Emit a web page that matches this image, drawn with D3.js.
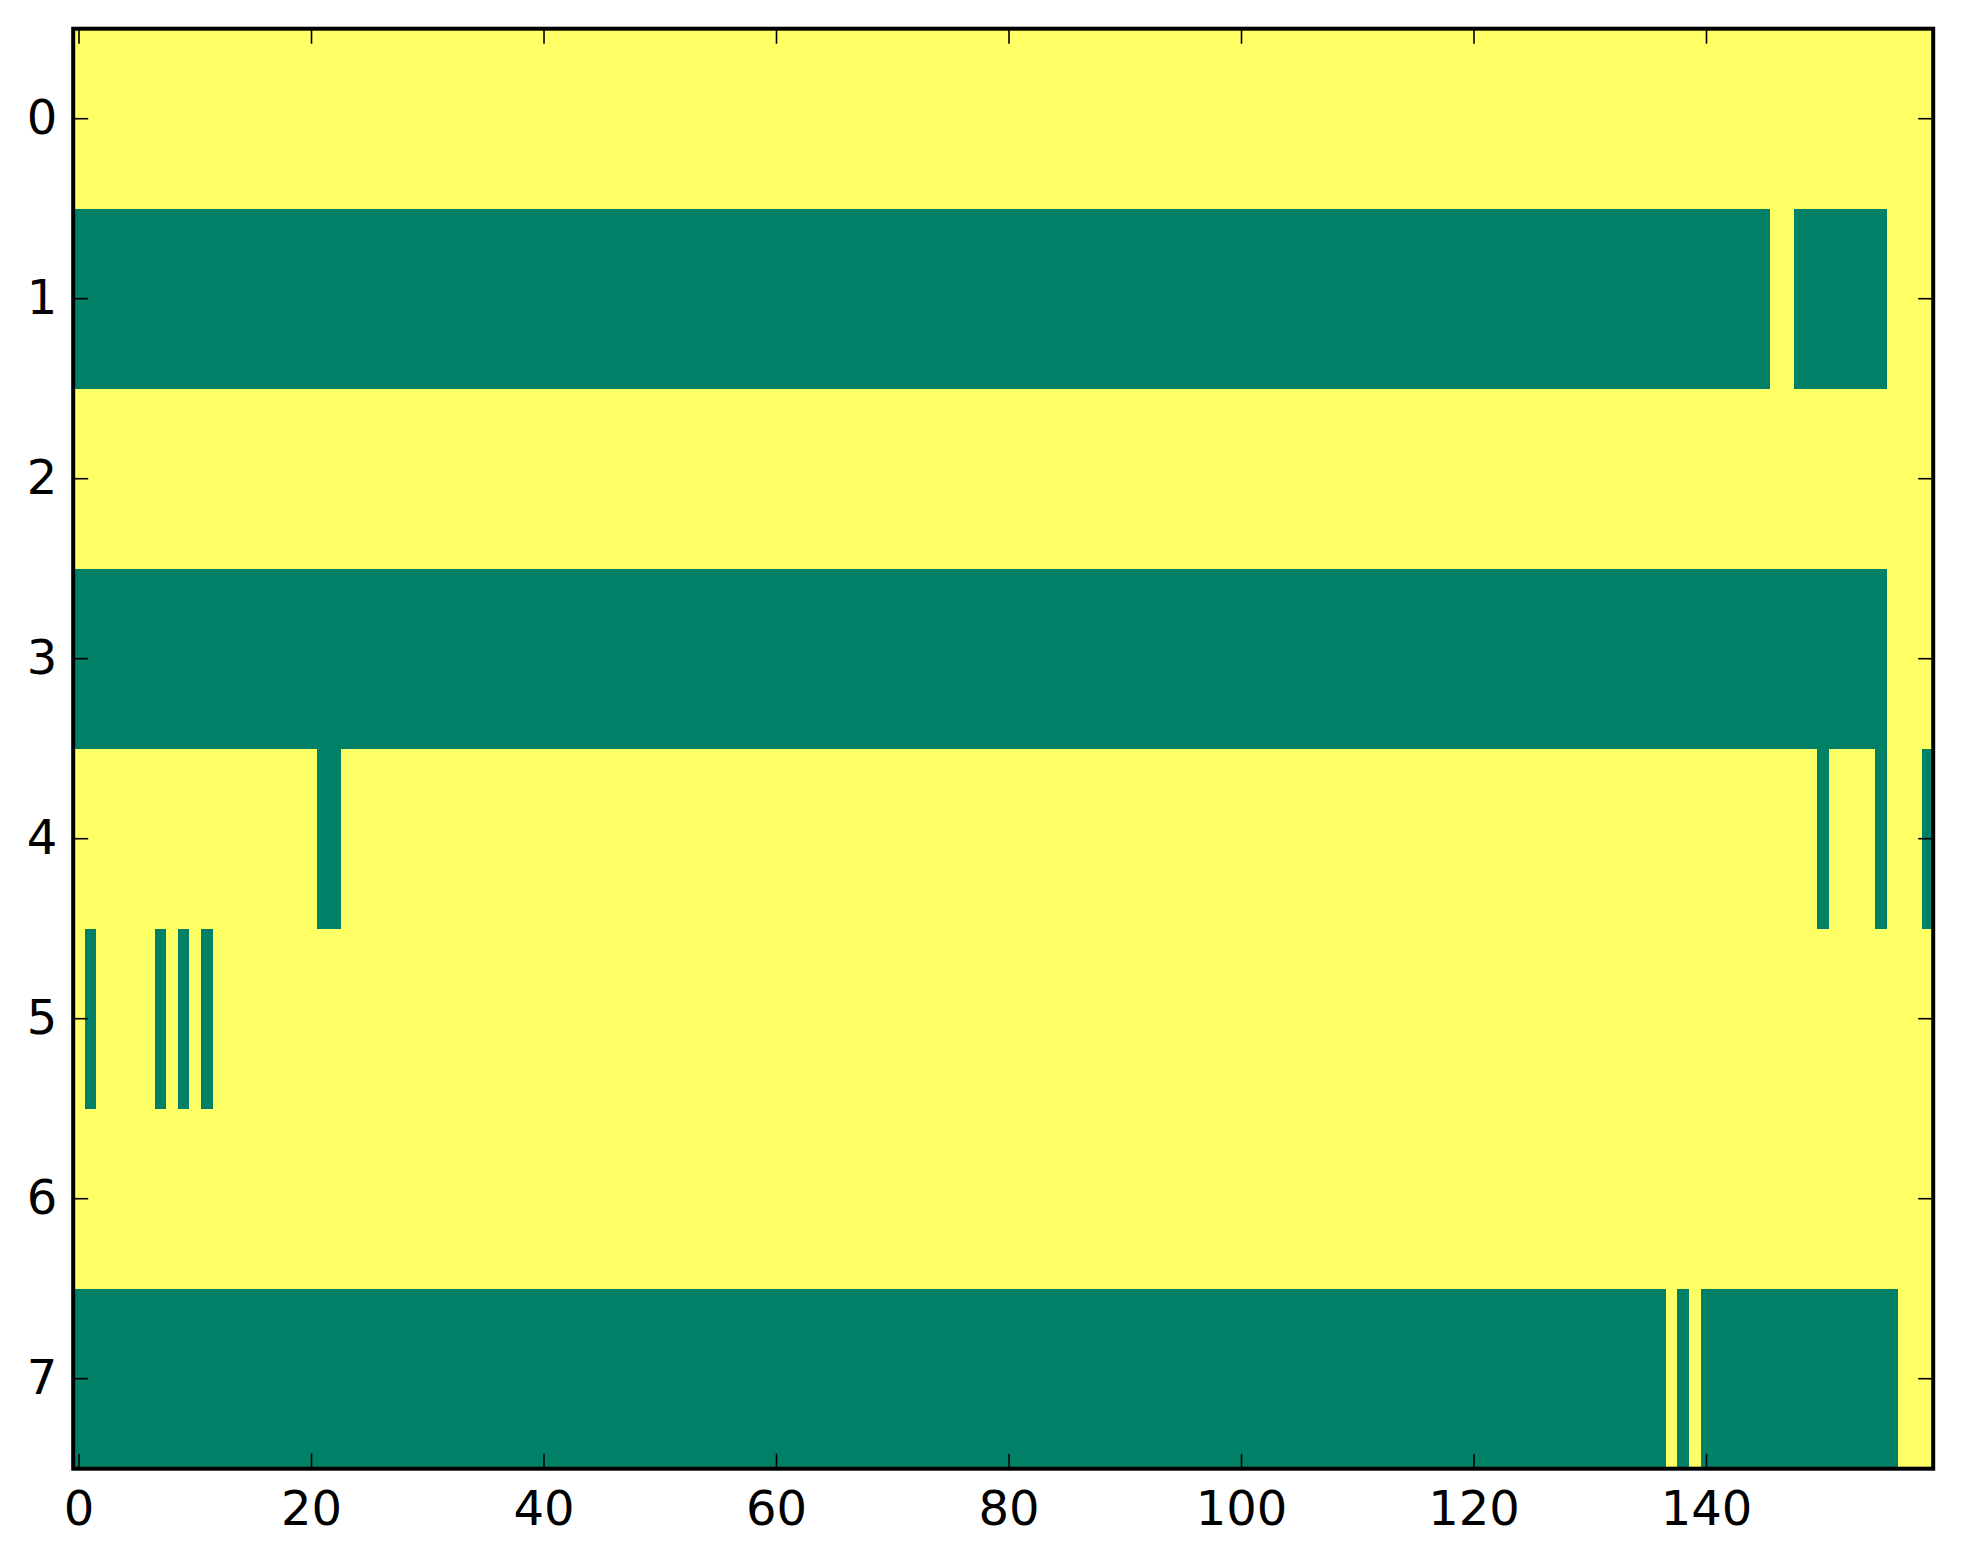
<!DOCTYPE html>
<html>
<head>
<meta charset="utf-8">
<script src="https://cdn.jsdelivr.net/npm/d3@7"></script>
<style>
html,body{margin:0;padding:0;background:#fff;}
svg{display:block;}
text{font-family:"DejaVu Sans",sans-serif;}
</style>
</head>
<body>
<svg id="chart" width="1963" height="1564"></svg>
<script>
// Data: 8 rows x 160 columns of binary values (0 = green, 1 = yellow).
const nCols = 160;
const rowLabels = [0,1,2,3,4,5,6,7];
// Runs of zero-valued cells per row: [startCol, endCol] inclusive
const zeroRuns = [
  [],
  [[0,145],[148,155]],
  [],
  [[0,155]],
  [[21,22],[150,150],[155,155],[159,159]],
  [[1,1],[7,7],[9,9],[11,11]],
  [],
  [[0,136],[138,138],[140,156]]
];
const xTicks = [0,20,40,60,80,100,120,140];
const yTicks = [0,1,2,3,4,5,6,7];

// build grid
const cells = [];
rowLabels.forEach((r,ri)=>{
  for(let c=0;c<nCols;c++){
    const z = zeroRuns[ri].some(([a,b])=>c>=a&&c<=b);
    cells.push({row:r,col:c,v:z?0:1});
  }
});

const svg = d3.select("#chart");
const L=73.2, R=1933.2, T=28.7, B=1468.7;
const x = d3.scaleLinear().domain([-0.5, nCols-0.5]).range([L,R]);
const y = d3.scaleLinear().domain([-0.5, rowLabels.length-0.5]).range([T,B]);
const color = d3.scaleLinear().domain([0,1]).range(["#008066","#ffff66"]);

svg.append("g").attr("shape-rendering","crispEdges")
  .selectAll("rect").data(cells).join("rect")
  .attr("x",d=>x(d.col-0.5))
  .attr("y",d=>y(d.row-0.5))
  .attr("width",d=>x(d.col+0.5)-x(d.col-0.5)+0.6)
  .attr("height",d=>y(d.row+0.5)-y(d.row-0.5)+0.6)
  .attr("fill",d=>color(d.v));

const tickLen=15;
const axG = svg.append("g").attr("stroke","#000").attr("stroke-width",1.6);
// bottom & top ticks
xTicks.forEach(t=>{
  axG.append("line").attr("x1",x(t)).attr("x2",x(t)).attr("y1",B).attr("y2",B-tickLen);
  axG.append("line").attr("x1",x(t)).attr("x2",x(t)).attr("y1",T).attr("y2",T+tickLen);
});
yTicks.forEach(t=>{
  axG.append("line").attr("y1",y(t)).attr("y2",y(t)).attr("x1",L).attr("x2",L+tickLen);
  axG.append("line").attr("y1",y(t)).attr("y2",y(t)).attr("x1",R).attr("x2",R-tickLen);
});

// frame
svg.append("rect").attr("x",L).attr("y",T).attr("width",R-L).attr("height",B-T)
  .attr("fill","none").attr("stroke","#000").attr("stroke-width",4);

// tick labels
svg.append("g").selectAll("text").data(xTicks).join("text")
  .attr("x",d=>x(d)).attr("y",B+56)
  .attr("text-anchor","middle").attr("font-size",48).attr("fill","#000")
  .text(d=>d);
svg.append("g").selectAll("text").data(yTicks).join("text")
  .attr("x",L-16).attr("y",d=>y(d)+15)
  .attr("text-anchor","end").attr("font-size",48).attr("fill","#000")
  .text(d=>d);
</script>
</body>
</html>
